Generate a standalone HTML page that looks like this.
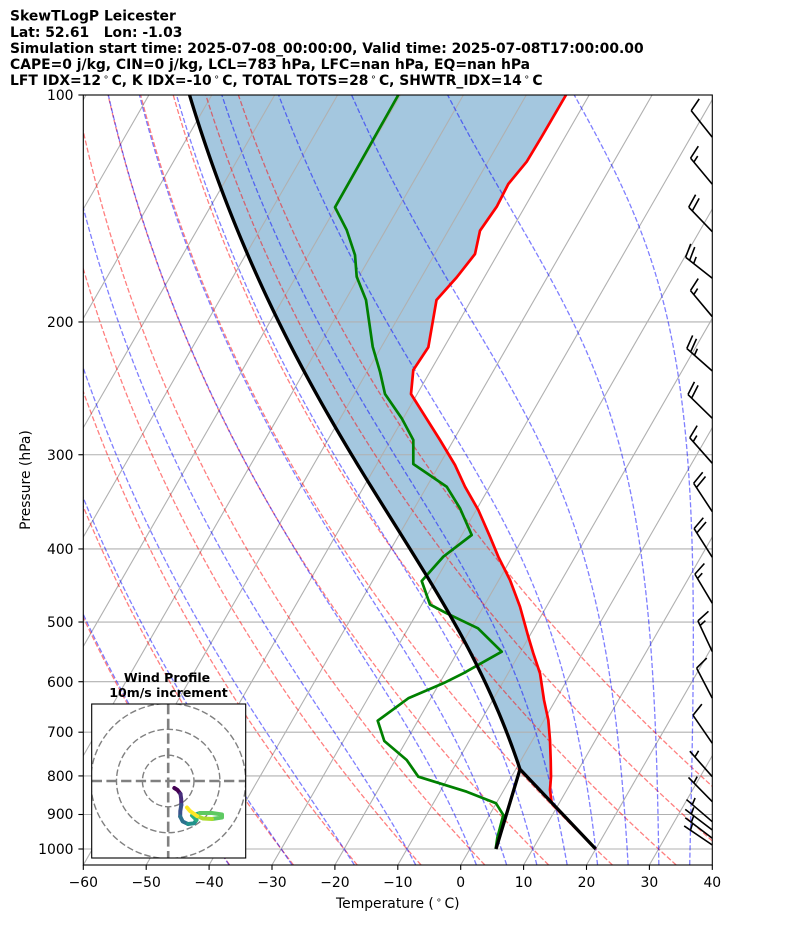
<!DOCTYPE html>
<html><head><meta charset="utf-8"><style>
html,body{margin:0;padding:0;background:#fff;}
svg{display:block;}
text{font-family:"DejaVu Sans","Liberation Sans",sans-serif;}
</style></head><body>
<svg id="s" xmlns="http://www.w3.org/2000/svg" width="794" height="937" viewBox="0 0 794 937">
<defs>
<clipPath id="ax"><rect x="83.3" y="95" width="629" height="770"/></clipPath>
<clipPath id="hod"><rect x="91.7" y="704" width="154" height="154"/></clipPath>
</defs>
<rect width="794" height="937" fill="#fff"/>
<g clip-path="url(#ax)">
<g id="gFill"></g>
<g id="gGrid" stroke="#b0b0b0" stroke-width="1.1" fill="none"></g>
<g id="gDry" stroke="#ff0000" stroke-opacity="0.5" stroke-width="1.3" stroke-dasharray="5.1 2.2" fill="none"></g>
<g id="gMoist" stroke="#0000ff" stroke-opacity="0.5" stroke-width="1.3" stroke-dasharray="5.1 2.2" fill="none"></g>
<polyline id="red" fill="none" stroke="#ff0000" stroke-width="2.7" stroke-linejoin="round"/>
<polyline id="grn" fill="none" stroke="#008000" stroke-width="2.7" stroke-linejoin="round"/>
<g id="gParcel" fill="none" stroke="#000" stroke-width="3.3" stroke-linejoin="round"></g>
</g>
<g id="gBarbs" fill="none" stroke="#000" stroke-width="1.6"></g>
<rect x="83.3" y="95" width="629" height="770" fill="none" stroke="#000" stroke-width="1.1"/>
<g id="gTicks" stroke="#000" stroke-width="1.1"></g>

<!-- y tick labels -->
<g font-size="13.9" text-anchor="end" fill="#000">
<text x="73.5" y="100">100</text>
<text x="73.5" y="327">200</text>
<text x="73.5" y="460">300</text>
<text x="73.5" y="554">400</text>
<text x="73.5" y="627">500</text>
<text x="73.5" y="687">600</text>
<text x="73.5" y="737">700</text>
<text x="73.5" y="781">800</text>
<text x="73.5" y="819">900</text>
<text x="73.5" y="854">1000</text>
</g>
<!-- x tick labels -->
<g font-size="13.9" text-anchor="middle" fill="#000">
<text x="83.3" y="887">−60</text>
<text x="146.2" y="887">−50</text>
<text x="209.1" y="887">−40</text>
<text x="272" y="887">−30</text>
<text x="334.9" y="887">−20</text>
<text x="397.8" y="887">−10</text>
<text x="460.7" y="887">0</text>
<text x="523.6" y="887">10</text>
<text x="586.5" y="887">20</text>
<text x="649.4" y="887">30</text>
<text x="712.3" y="887">40</text>
</g>
<text x="397.8" y="908" font-size="13.9" text-anchor="middle">Temperature (<tspan font-size="9.7" dx="2" dy="-5">∘</tspan><tspan dx="2.5" dy="5">C)</tspan></text>
<text transform="translate(30,480) rotate(-90)" font-size="13.9" text-anchor="middle">Pressure (hPa)</text>

<!-- title -->
<g font-size="13.9" font-weight="bold" fill="#000">
<text x="10" y="20.7">SkewTLogP Leicester</text>
<text x="10" y="36.8" style="white-space:pre">Lat: 52.61   Lon: -1.03</text>
<text x="10" y="52.9">Simulation start time: 2025-07-08_00:00:00, Valid time: 2025-07-08T17:00:00.00</text>
<text x="10" y="69">CAPE=0 j/kg, CIN=0 j/kg, LCL=783 hPa, LFC=nan hPa, EQ=nan hPa</text>
<text x="10" y="85.1">LFT IDX=12<tspan font-size="9.7" font-weight="normal" dx="2" dy="-5">∘</tspan><tspan dx="2.5" dy="5">C, K IDX=-10</tspan><tspan font-size="9.7" font-weight="normal" dx="2" dy="-5">∘</tspan><tspan dx="2.5" dy="5">C, TOTAL TOTS=28</tspan><tspan font-size="9.7" font-weight="normal" dx="2" dy="-5">∘</tspan><tspan dx="2.5" dy="5">C, SHWTR_IDX=14</tspan><tspan font-size="9.7" font-weight="normal" dx="2" dy="-5">∘</tspan><tspan dx="2.5" dy="5">C</tspan></text>
</g>

<!-- hodograph inset -->
<rect x="91.7" y="704" width="154" height="154" fill="#fff"/>
<g clip-path="url(#hod)">
<g fill="none" stroke="#808080" stroke-width="1.4" stroke-dasharray="6.5 2.8">
<circle cx="168.2" cy="781" r="25.8"/>
<circle cx="168.2" cy="781" r="51.7"/>
<circle cx="168.2" cy="781" r="77.5"/>
</g>
<g stroke="#808080" stroke-width="2.6" stroke-dasharray="10.3 4.4">
<line x1="91.7" y1="781" x2="245.7" y2="781"/>
<line x1="168.2" y1="704" x2="168.2" y2="858"/>
</g>
<g fill="none" stroke-width="4" stroke-linejoin="round" stroke-linecap="round">
<polyline stroke="#440154" points="174.3,788 177.5,790 180.5,794"/>
<polyline stroke="#472d7b" points="180.5,794 181.2,799 181.3,805"/>
<polyline stroke="#3b528b" points="181.3,805 180.3,811 180.2,816.5"/>
<polyline stroke="#2c728e" points="180.2,816.5 182.7,821.5 188,824"/>
<polyline stroke="#21918c" points="188,824 194,823.3 196.5,820"/>
<polyline stroke="#28ae80" points="196.5,820 192,815.5 200,813"/>
<polyline stroke="#5ec962" points="200,813 212,813 222,814.5 222,817.5 212,819"/>
<polyline stroke="#addc30" points="212,819 203,818.5 197,816"/>
<polyline stroke="#fde725" points="197,816 190,811 187,807.5"/>
</g>
</g>
<rect x="91.7" y="704" width="154" height="154" fill="none" stroke="#000" stroke-width="1.1"/>
<g font-size="12.5" font-weight="bold" text-anchor="middle">
<text x="167" y="682">Wind Profile</text>
<text x="168.5" y="697">10m/s increment</text>
</g>
</svg>
<script>
(function(){
const NS='http://www.w3.org/2000/svg';
const X0=83.3,S=443,KX=6.29;
const py=p=>95+754*Math.log10(p/100);
const px=(T,p)=>X0+(T+60)*KX+S*(865-py(p))/770;
function el(tag,attrs,parent){const e=document.createElementNS(NS,tag);for(const k in attrs)e.setAttribute(k,attrs[k]);parent.appendChild(e);return e;}
const pts=a=>a.map(q=>q[0].toFixed(2)+','+q[1].toFixed(2)).join(' ');
const $=id=>document.getElementById(id);

// grid
const gG=$('gGrid');
for(let T=-140;T<=40;T+=10){const xb=X0+(T+60)*KX;el('line',{x1:xb,y1:865,x2:xb+S,y2:95},gG);}
for(let p=100;p<=1000;p+=100){const y=py(p);el('line',{x1:83.3,y1:y,x2:712.3,y2:y},gG);}

// ticks
const gT=$('gTicks');
for(let p=100;p<=1000;p+=100){const y=py(p);el('line',{x1:78.4,y1:y,x2:83.3,y2:y},gT);}
for(let T=-60;T<=40;T+=10){const x=X0+(T+60)*KX;el('line',{x1:x,y1:865,x2:x,y2:869.9},gT);}

// pressure array
const P=[];for(let i=0;i<=150;i++)P.push(Math.exp(Math.log(1050)+(Math.log(100)-Math.log(1050))*i/150));
// dry adiabats
const gD=$('gDry');
for(let t0=-40;t0<=50;t0+=10){
  const a=P.map(p=>[px((t0+273.15)*Math.pow(p/1000,0.28571)-273.15,p),py(p)]);
  el('polyline',{points:pts(a)},gD);
}
// moist adiabats
const Rd=287.04749,Lv=2.50084e6,Cp=1004.6662,eps=0.6219569;
const es=T=>6.112*Math.exp(17.67*(T-273.15)/(T-29.65));
const rs=(p,T)=>{const e=es(T);return eps*e/(p-e);};
function f(lnp,T){const p=Math.exp(lnp);const r=rs(p,T);return (Rd*T+Lv*r)/(Cp+Lv*Lv*r*eps/(Rd*T*T));}
function moist(T0,p0,pend,n){
  let lnp=Math.log(p0),T=T0;const h=(Math.log(pend)-lnp)/n;const out=[[p0,T]];
  for(let i=0;i<n;i++){
    const k1=f(lnp,T),k2=f(lnp+h/2,T+h/2*k1),k3=f(lnp+h/2,T+h/2*k2),k4=f(lnp+h,T+h*k3);
    T+=h/6*(k1+2*k2+2*k3+k4);lnp+=h;out.push([Math.exp(lnp),T]);
  }
  return out;
}
const gM=$('gMoist');
const mt=[-40,-30,-20,-10,0,5,10,15,20,25,30,35,40,45,50];
for(const t0 of mt){
  const up=moist(t0+273.15,1000,100,220);
  const dn=moist(t0+273.15,1000,1050,8).reverse();
  const all=dn.concat(up.slice(1));
  el('polyline',{points:pts(all.map(q=>[px(q[1]-273.15,q[0]),py(q[0])]))},gM);
}

// profiles
const RED=[[595.7,849],[551.7,803.3],[550,790],[551,776.7],[550.7,760],[550,740],[548.3,720],[544,700],[540,673.3],[533.3,653.3],[528.3,636.7],[520,606.7],[510,580],[498.3,556.7],[490,536.7],[478.3,510],[465,486.7],[455,465],[440,440],[411,394],[413.3,370],[428.3,347.3],[436.5,300],[456.7,277.3],[475,254],[480,230.7],[496.7,206.7],[508.3,184],[526.7,161.7],[541.7,136.7],[566,95]];
const GRN=[[495.7,849],[497.3,838],[503.3,815],[496,803.3],[466.7,791.7],[418.3,776.7],[406.7,760],[384.3,741],[377.7,720.7],[408.3,698.3],[443.3,683.3],[463.3,673.3],[501.7,651.7],[478,628.3],[446.7,613.3],[430,604.5],[421.7,581],[443.3,556.7],[471.7,535],[460,508.3],[446.7,486.7],[413.3,464],[413.3,440],[401.7,418.3],[385,394],[380,371.7],[372.7,346.7],[366,300],[356.7,276.7],[355,255],[346.7,230],[335,207.3],[398.3,95]];
$('red').setAttribute('points',pts(RED));
$('grn').setAttribute('points',pts(GRN));

// parcel
const pL=783.8,TL=0.67+273.15;
const mp=moist(TL,pL,100,200).map(q=>[px(q[1]-273.15,q[0]),py(q[0])]);
const LCL=mp[0];
const gP=$('gParcel');
el('polyline',{points:pts([[595.7,849],LCL].concat(mp.slice(1)))},gP);
el('polyline',{points:pts([[496,849],LCL])},gP);

// fill
const poly=RED.slice(1).concat(mp.slice().reverse());
el('polygon',{points:pts(poly),fill:'#a4c7df',stroke:'none'},$('gFill'));

// barbs
const B=[[137.3,690.7,110,1,0],[184.3,690.7,158.3,1,1],[231.7,688.3,206.7,2,0],[278.3,685,256.7,2,1],[316.7,690,290,1,1],[371,684,346,2,1],[418.3,686.7,393.3,2,0],[463.3,691.7,440,1,1],[511.7,693.3,482.7,2,0],[557.3,695,530,2,0],[603.3,696,576,1,1],[651.7,698.3,621.7,1,1],[698.3,696.7,668.3,1,0],[743.3,691.7,713.3,1,0],[776.7,690.3,751.7,0,1],[801.7,690.3,779.3,0,1],[821.7,687,800,0,1],[830,686,810,0,1],[838.3,686,818.3,0,1],[845,685.3,826.7,0,1]];
const gB=$('gBarbs');
const L=34,fh=0.4*L,fw=0.25*L,sp=0.15*L,bx=712.3;
for(const [by,tx,ty,nf,nh] of B){
  let dx=tx-bx,dy=ty-by;const l=Math.hypot(dx,dy);dx/=l;dy/=l;
  const qx=-dy,qy=dx;
  const P2=(o,h,e)=>[(bx+(o+e)*dx+h*qx).toFixed(2),(by+(o+e)*dy+h*qy).toFixed(2)];
  let d=`M${bx},${by}L${(bx+L*dx).toFixed(2)},${(by+L*dy).toFixed(2)}`;
  let off=L;
  for(let i=0;i<nf;i++){const a=P2(off,0,0),b=P2(off,fh,fw/2);d+=`M${a[0]},${a[1]}L${b[0]},${b[1]}`;off-=sp;}
  if(nh){if(nf===0)off-=1.5*sp;const a=P2(off,0,0),b=P2(off,fh/2,fw/4);d+=`M${a[0]},${a[1]}L${b[0]},${b[1]}`;}
  el('path',{d:d},gB);
}
})();
</script>
</body></html>
